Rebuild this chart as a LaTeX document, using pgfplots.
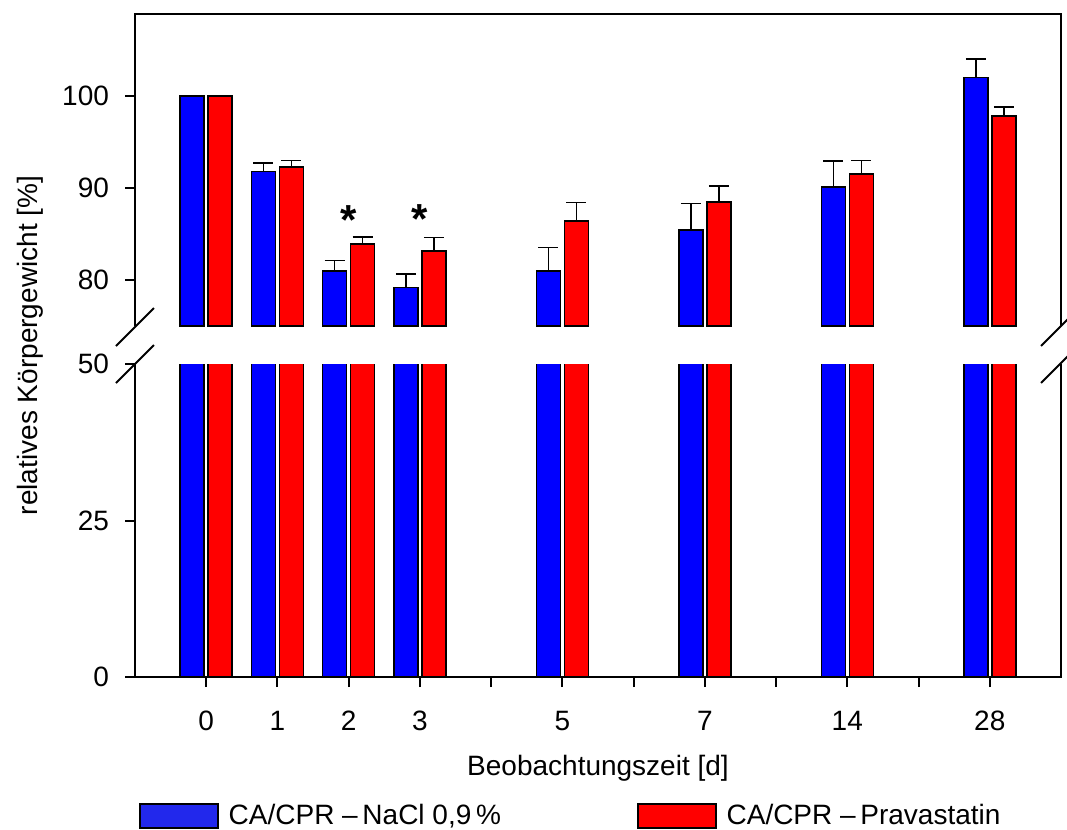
\documentclass[border=0pt]{standalone}
\usepackage{pgfplots}
\pgfplotsset{compat=1.18}
\usepackage{pgfplotstable}
\usepackage{fontspec}
\setmainfont{Liberation Sans}

\definecolor{barblue}{RGB}{0,0,255}
\definecolor{barred}{RGB}{255,0,0}
\definecolor{legblue}{RGB}{34,40,236}

% x position: 0,1,2,3,5,7 -> same; day 14 -> 9; day 28 -> 11
\pgfplotstableread{
x  nacl   naclerr prav   praverr
0  100.0  0.0     100.0  0.0
1  91.8   0.9     92.3   0.7
2  81.0   1.1     83.9   0.8
3  79.2   1.45    83.15  1.45
5  81.0   2.55    86.4   2.0
7  85.4   2.9     88.5   1.7
9  90.1   2.8     91.5   1.5
11 102.0  2.0     97.8   1.0
}\data

\pgfplotsset{
  common/.style={
    scale only axis, width=463pt,
    xmin=-1, xmax=12,
    axis line style={draw=none},
    tick align=outside, major tick length=5pt,
    tick style={black, line width=1pt},
    ytick pos=left,
    yticklabel style={xshift=-4.5pt},
    /pgf/number format/assume math mode=true,
    clip mode=individual,
    ybar, bar width=12pt,
  },
  bblue/.style={fill=barblue, draw=black, line width=0.8pt, bar shift=-7pt},
  bred/.style={fill=barred, draw=black, line width=0.8pt, bar shift=7pt},
  erronly/.style={draw=none, fill=none, forget plot,
    skip coords between index={0}{1},
    error bars/.cd, y dir=plus, y explicit,
    error bar style={draw=black, line width=0.8pt},
    error mark options={draw=black, line width=0.8pt, rotate=90, mark size=5pt}},
}

\begin{document}
\begin{tikzpicture}[font=\fontsize{14}{17}\selectfont]
\path[use as bounding box] (0,0) rectangle (533.5pt,-415pt);

% upper part
\begin{axis}[common,
  at={(67.5pt,-163pt)}, anchor=south west, height=156pt,
  ymin=75, ymax=108.9, ytick={80,90,100}, xtick=\empty,
]
\addplot[bblue] table[x=x, y=nacl] {\data};
\addplot[bred] table[x=x, y=prav] {\data};
\addplot[bar shift=-7pt, erronly] table[x=x, y=nacl, y error=naclerr] {\data};
\addplot[bar shift=7pt, erronly] table[x=x, y=prav, y error=praverr] {\data};
\draw[line width=1pt] (rel axis cs:0,0) -- (rel axis cs:0,1) -- (rel axis cs:1,1) -- (rel axis cs:1,0);
\node[anchor=base, inner sep=0pt, font=\fontsize{21}{21}\selectfont\bfseries] at (axis cs:2,84.9) {*};
\node[anchor=base, inner sep=0pt, font=\fontsize{21}{21}\selectfont\bfseries] at (axis cs:3,85.1) {*};
\end{axis}

% lower part
\begin{axis}[common,
  at={(67.5pt,-338.5pt)}, anchor=south west, height=156.5pt,
  ymin=0, ymax=50, ytick={0,25,50},
  xtick={0,1,2,3,4,5,6,7,8,9,10,11}, xtick pos=bottom,
  xticklabels={0,1,2,3,,5,,7,,14,,28},
  xticklabel style={yshift=-8.5pt},
  legend columns=2,
  legend image code/.code={\draw[#1] (0pt,-6pt) rectangle (39pt,6pt);},
  legend style={draw=none, fill=none, inner sep=0pt,
    at={(axis description cs:0.004,-0.445)}, anchor=west,
    nodes={inner xsep=5pt, inner ysep=0pt},
    /tikz/every even column/.append style={column sep=63pt}},
]
\addplot[bblue, forget plot] table[x=x, y=nacl] {\data};
\addplot[bred, forget plot] table[x=x, y=prav] {\data};
\addlegendimage{fill=legblue, draw=black, line width=0.8pt}
\addlegendentry{CA/CPR –\,NaCl 0,9\,\%}
\addlegendimage{fill=barred, draw=black, line width=0.8pt}
\addlegendentry{CA/CPR –\,Pravastatin}
\draw[line width=1pt] (rel axis cs:0,1) -- (rel axis cs:0,0) -- (rel axis cs:1,0) -- (rel axis cs:1,1);
\end{axis}

% axis break marks
\draw[line width=1pt] (58pt,-173pt) -- (77pt,-154pt);
\draw[line width=1pt] (58pt,-191.5pt) -- (77pt,-172.5pt);
\draw[line width=1pt] (520.5pt,-173pt) -- (539.5pt,-154pt);
\draw[line width=1pt] (520.5pt,-191.5pt) -- (539.5pt,-172.5pt);

\node[rotate=90] at (15pt,-172.75pt) {relatives Körpergewicht [\%]};
\node at (299pt,-384pt) {Beobachtungszeit [d]};
\end{tikzpicture}
\end{document}
